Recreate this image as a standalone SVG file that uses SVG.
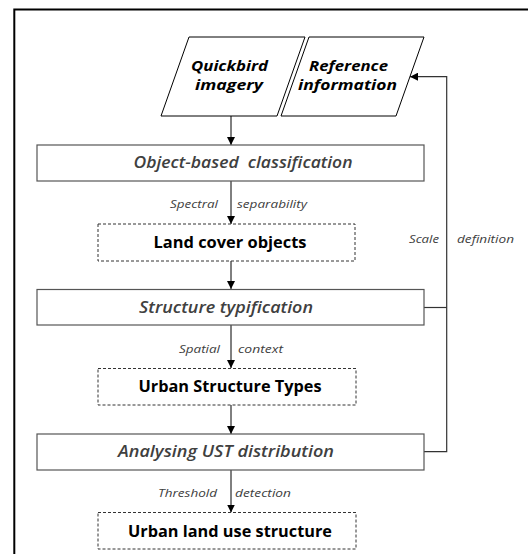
<svg xmlns="http://www.w3.org/2000/svg" width="528" height="554" viewBox="0 0 528 554">
<style>
.frame{fill:none;stroke:#000;stroke-width:2}
.para{fill:#fff;stroke:#000;stroke-width:1}
.proc{fill:#fff;stroke:#555;stroke-width:1.2}
.res{fill:#fff;stroke:#333;stroke-width:1;stroke-dasharray:3,2}
.pt{font-family:"Open Sans","Liberation Sans",sans-serif;font-weight:bold;font-style:italic;font-size:15px;fill:#000;text-anchor:middle}
.rt{font-family:"Open Sans","Liberation Sans",sans-serif;font-weight:600;font-style:italic;font-size:16px;fill:#404040;text-anchor:middle}
.dt{font-family:"Open Sans","Liberation Sans",sans-serif;font-weight:bold;font-size:15.5px;fill:#000;text-anchor:middle}
.lb{font-family:"Open Sans","Liberation Sans",sans-serif;font-style:italic;font-size:11px;fill:#404040}
.ln{fill:none;stroke:#000;stroke-width:1}
.ln2{fill:none;stroke:#333;stroke-width:1.2}
</style>
<defs>
<marker id="ah" viewBox="0 0 8 8" refX="8" refY="4" markerWidth="8" markerHeight="8" markerUnits="userSpaceOnUse" orient="auto">
<path d="M0,0 L8,4 L0,8 z" fill="#000"/>
</marker>
</defs>
<path class="frame" d="M14.3,560 V9.5 H540"/>
<g id="connectors">
<path class="ln" d="M231,116 V145" marker-end="url(#ah)"/>
<path class="ln" d="M231,181 V224" marker-end="url(#ah)"/>
<path class="ln" d="M231,261 V289" marker-end="url(#ah)"/>
<path class="ln" d="M231,325 V368" marker-end="url(#ah)"/>
<path class="ln" d="M231,405 V434" marker-end="url(#ah)"/>
<path class="ln" d="M231,470 V512.5" marker-end="url(#ah)"/>
<path class="ln2" d="M424,307.5 H446.7"/>
<path class="ln2" d="M424,451.7 H446.7 V76.7 H410" marker-end="url(#ah)"/>
<text class="lb" x="218" y="207.5" text-anchor="end" textLength="48" lengthAdjust="spacingAndGlyphs">Spectral</text>
<text class="lb" x="237" y="207.5" textLength="70" lengthAdjust="spacingAndGlyphs">separability</text>
<text class="lb" x="220" y="352.5" text-anchor="end" textLength="41" lengthAdjust="spacingAndGlyphs">Spatial</text>
<text class="lb" x="238" y="352.5" textLength="45" lengthAdjust="spacingAndGlyphs">context</text>
<text class="lb" x="217" y="496.5" text-anchor="end" textLength="59" lengthAdjust="spacingAndGlyphs">Threshold</text>
<text class="lb" x="235" y="496.5" textLength="56" lengthAdjust="spacingAndGlyphs">detection</text>
<text class="lb" x="439" y="242.5" text-anchor="end" textLength="30" lengthAdjust="spacingAndGlyphs">Scale</text>
<text class="lb" x="457" y="242.5" textLength="57" lengthAdjust="spacingAndGlyphs">definition</text>
</g>
<g id="quickbird">
<polygon class="para" points="189,37 305,37 277,116 161,116"/>
<text class="pt" x="229.5" y="71" textLength="77" lengthAdjust="spacingAndGlyphs">Quickbird</text>
<text class="pt" x="229" y="90" textLength="68" lengthAdjust="spacingAndGlyphs">imagery</text>
</g>
<g id="reference">
<polygon class="para" points="309,37 424,37 396,116 281,116"/>
<text class="pt" x="348.5" y="71" textLength="79" lengthAdjust="spacingAndGlyphs">Reference</text>
<text class="pt" x="347.5" y="90" textLength="99" lengthAdjust="spacingAndGlyphs">information</text>
</g>
<g id="object-based">
<rect class="proc" x="37" y="145" width="387" height="36"/>
<text class="rt" x="243" y="168" textLength="219" lengthAdjust="spacingAndGlyphs">Object-based&#160; classification</text>
</g>
<g id="land-cover">
<rect class="res" x="98" y="224" width="257" height="37"/>
<text class="dt" x="230" y="248" textLength="153" lengthAdjust="spacingAndGlyphs">Land cover objects</text>
</g>
<g id="structure-typification">
<rect class="proc" x="37" y="289.5" width="387" height="35.5"/>
<text class="rt" x="226" y="312.5" textLength="174" lengthAdjust="spacingAndGlyphs">Structure typification</text>
</g>
<g id="urban-structure-types">
<rect class="res" x="98" y="368.5" width="258" height="36.5"/>
<text class="dt" x="230" y="392" textLength="183" lengthAdjust="spacingAndGlyphs">Urban Structure Types</text>
</g>
<g id="analysing">
<rect class="proc" x="37" y="434" width="387" height="36"/>
<text class="rt" x="226" y="457" textLength="216" lengthAdjust="spacingAndGlyphs">Analysing UST distribution</text>
</g>
<g id="urban-land-use">
<rect class="res" x="98" y="512.5" width="258" height="36.5"/>
<text class="dt" x="230" y="537" textLength="204" lengthAdjust="spacingAndGlyphs">Urban land use structure</text>
</g>
</svg>
